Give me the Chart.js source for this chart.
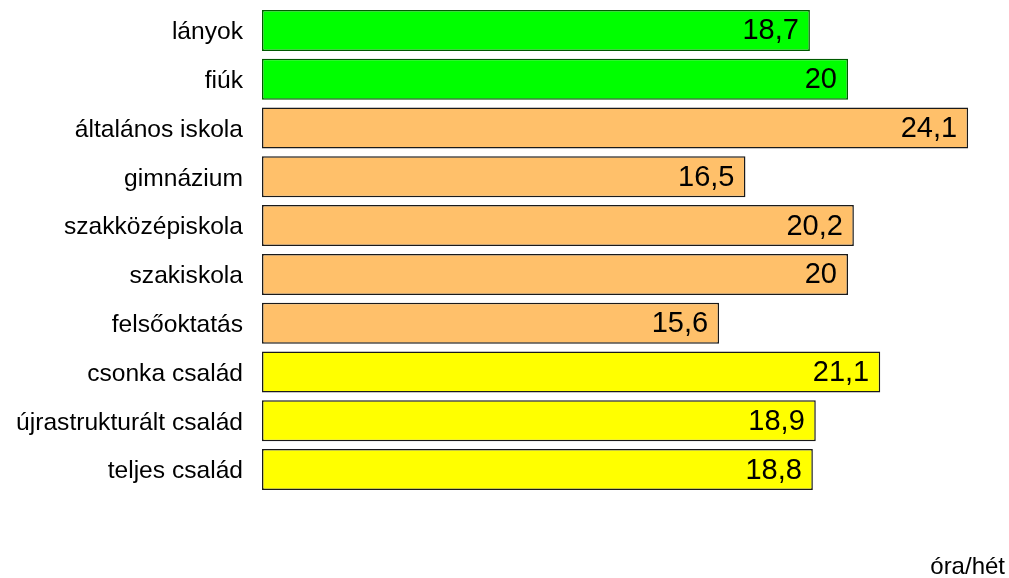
<!DOCTYPE html>
<html>
<head>
<meta charset="utf-8">
<script src="https://cdn.jsdelivr.net/npm/chart.js@4/dist/chart.umd.min.js"></script>
<style>
html,body{margin:0;padding:0;background:#fff;}
#wrap{width:1009px;height:578px;position:relative;}
</style>
</head>
<body>
<div id="wrap"><canvas id="c" width="1009" height="578"></canvas></div>
<script>
const categories = ["lányok","fiúk","általános iskola","gimnázium","szakközépiskola","szakiskola","felsőoktatás","csonka család","újrastrukturált család","teljes család"];
const values = [18.7, 20, 24.1, 16.5, 20.2, 20, 15.6, 21.1, 18.9, 18.8];
const valueLabels = ["18,7","20","24,1","16,5","20,2","20","15,6","21,1","18,9","18,8"];
const groups = ["gender","gender","school","school","school","school","school","family","family","family"];
const unitLabel = "óra/hét";

const fillColors = {gender:"#00FF00", school:"#FFC06A", family:"#FFFF00"};
const borderColors = {gender:"#005A00", school:"#1a1a1a", family:"#1a1a1a"};

const valuePlugin = {
  id: "valueLabels",
  afterDatasetsDraw(chart) {
    const ctx = chart.ctx;
    const meta = chart.getDatasetMeta(0);
    ctx.save();
    ctx.font = "29px 'Liberation Sans', Arial, sans-serif";
    ctx.fillStyle = "#000";
    ctx.textAlign = "right";
    ctx.textBaseline = "middle";
    meta.data.forEach((bar, i) => {
      ctx.fillText(valueLabels[i], bar.x - 11, bar.y + 1);
    });
    ctx.restore();
  },
  afterDraw(chart) {
    const ctx = chart.ctx;
    ctx.save();
    ctx.font = "24px 'Liberation Sans', Arial, sans-serif";
    ctx.fillStyle = "#000";
    ctx.textAlign = "right";
    ctx.textBaseline = "alphabetic";
    ctx.fillText(unitLabel, chart.width - 4, chart.height - 4);
    ctx.restore();
  }
};

new Chart(document.getElementById("c"), {
  type: "bar",
  data: {
    labels: categories,
    datasets: [{
      data: values,
      backgroundColor: groups.map(g => fillColors[g]),
      borderColor: groups.map(g => borderColors[g]),
      borderWidth: 1.5,
      borderSkipped: false,
      barPercentage: 0.84,
      categoryPercentage: 1.0
    }]
  },
  options: {
    indexAxis: "y",
    responsive: false,
    animation: false,
    layout: { padding: { top: 6, bottom: 84, right: 14.5, left: 0 } },
    plugins: { legend: { display: false }, tooltip: { enabled: false } },
    scales: {
      x: { display: false, min: 0, max: 25 },
      y: {
        grid: { display: false, drawTicks: false },
        border: { display: false },
        ticks: {
          color: "#000",
          padding: 19,
          labelOffset: 2,
          font: { family: "'Liberation Sans', Arial, sans-serif", size: 24.6 }
        },
        afterFit(scale) {
          scale.width = 262;
          scale.paddingTop = 0;
          scale.paddingBottom = 0;
        }
      }
    }
  },
  plugins: [valuePlugin]
});
</script>
</body>
</html>
